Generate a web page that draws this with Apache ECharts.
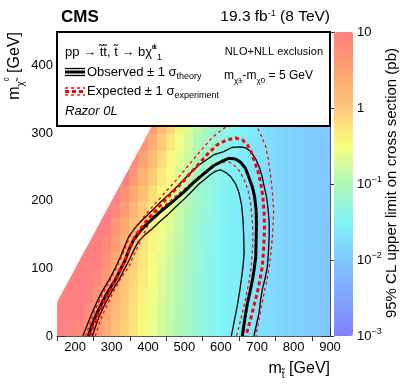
<!DOCTYPE html>
<html>
<head>
<meta charset="utf-8">
<script src="https://cdn.jsdelivr.net/npm/echarts@6/dist/echarts.min.js"></script>
<style>
  html, body { margin: 0; padding: 0; background: #fff; }
  #chart { width: 407px; height: 391px; }
</style>
</head>
<body>
<div id="chart"></div>
<script>
// bins (lower edges, GeV)
const binWidth = 25;
const stopBins = [150, 175, 200, 225, 250, 275, 300, 325, 350, 375, 400, 425, 450, 475, 500,
                  525, 550, 575, 600, 625, 650, 675, 700, 725, 750, 775, 800, 825, 850, 875];
const lspBins = [0, 25, 50, 75, 100, 125, 150, 175, 200, 225, 250, 275, 300];
// minimum m(stop) - m(LSP) of the scan
const minMassGap = 100;

// log10 of the 95% CL upper limit (pb), one row per LSP bin, null = outside the scan
const limitLog10 = [
  [1.0, 0.95, 0.85, 0.72, 0.55, 0.35, 0.12, -0.08, -0.28, -0.45, -0.6, -0.75, -0.88, -1.0, -1.12, -1.25, -1.35, -1.42, -1.5, -1.56, -1.62, -1.68, -1.73, -1.78, -1.82, -1.86, -1.9, -1.94, -1.97, -2.0],
  [1.2, 1.1, 1.0, 0.82, 0.62, 0.41, 0.17, -0.03, -0.24, -0.42, -0.58, -0.74, -0.86, -1.0, -1.12, -1.25, -1.35, -1.42, -1.5, -1.56, -1.62, -1.68, -1.73, -1.78, -1.82, -1.86, -1.9, -1.94, -1.97, -2.0],
  [1.3, 1.25, 1.15, 0.97, 0.72, 0.48, 0.23, 0.02, -0.19, -0.38, -0.55, -0.72, -0.85, -0.98, -1.12, -1.25, -1.35, -1.42, -1.5, -1.56, -1.62, -1.68, -1.73, -1.78, -1.82, -1.86, -1.9, -1.94, -1.97, -2.0],
  [null, 1.25, 1.2, 1.12, 0.87, 0.58, 0.3, 0.08, -0.14, -0.33, -0.51, -0.69, -0.83, -0.97, -1.1, -1.25, -1.35, -1.42, -1.5, -1.56, -1.62, -1.68, -1.73, -1.78, -1.82, -1.86, -1.9, -1.94, -1.97, -2.0],
  [null, null, 1.2, 1.17, 1.02, 0.73, 0.4, 0.15, -0.08, -0.28, -0.46, -0.65, -0.8, -0.95, -1.09, -1.23, -1.35, -1.42, -1.5, -1.56, -1.62, -1.68, -1.73, -1.78, -1.82, -1.86, -1.9, -1.94, -1.97, -2.0],
  [null, null, null, 1.25, 1.22, 0.88, 0.55, 0.25, -0.01, -0.22, -0.41, -0.6, -0.76, -0.92, -1.07, -1.22, -1.33, -1.42, -1.5, -1.56, -1.62, -1.68, -1.73, -1.78, -1.82, -1.86, -1.9, -1.94, -1.97, -2.0],
  [null, null, null, null, 1.25, 1.08, 0.7, 0.4, 0.09, -0.15, -0.35, -0.55, -0.71, -0.88, -1.04, -1.2, -1.32, -1.4, -1.5, -1.56, -1.62, -1.68, -1.73, -1.78, -1.82, -1.86, -1.9, -1.94, -1.97, -2.0],
  [null, null, null, null, null, 1.3, 0.9, 0.55, 0.24, -0.05, -0.28, -0.49, -0.66, -0.83, -1.0, -1.17, -1.3, -1.39, -1.48, -1.56, -1.62, -1.68, -1.73, -1.78, -1.82, -1.86, -1.9, -1.94, -1.97, -2.0],
  [null, null, null, null, null, null, 1.15, 0.75, 0.39, 0.1, -0.18, -0.42, -0.6, -0.78, -0.95, -1.13, -1.27, -1.37, -1.47, -1.54, -1.62, -1.68, -1.73, -1.78, -1.82, -1.86, -1.9, -1.94, -1.97, -2.0],
  [null, null, null, null, null, null, null, 1.0, 0.59, 0.25, -0.03, -0.32, -0.53, -0.72, -0.9, -1.08, -1.23, -1.34, -1.45, -1.53, -1.6, -1.68, -1.73, -1.78, -1.82, -1.86, -1.9, -1.94, -1.97, -2.0],
  [null, null, null, null, null, null, null, null, 0.84, 0.45, 0.12, -0.17, -0.43, -0.65, -0.84, -1.03, -1.18, -1.3, -1.42, -1.51, -1.59, -1.66, -1.73, -1.78, -1.82, -1.86, -1.9, -1.94, -1.97, -2.0],
  [null, null, null, null, null, null, null, null, null, 0.7, 0.32, -0.02, -0.28, -0.55, -0.77, -0.97, -1.13, -1.25, -1.38, -1.48, -1.57, -1.65, -1.71, -1.78, -1.82, -1.86, -1.9, -1.94, -1.97, -2.0],
  [null, null, null, null, null, null, null, null, null, null, 0.57, 0.18, -0.13, -0.4, -0.67, -0.9, -1.07, -1.2, -1.33, -1.44, -1.54, -1.63, -1.7, -1.76, -1.82, -1.86, -1.9, -1.94, -1.97, -2.0]
];

// exclusion contours [m(stop), m(LSP)]
const observed = [[236,0],[245,14],[255,28],[268,43],[282,58],[296,71],[310,83],[324,98],[337,112],[348,128],[360,142],[378,155],[397,166],[420,177],[443,188],[470,200],[498,213],[525,227],[553,240],[580,252],[608,260],[622,263],[640,262],[655,257],[668,248],[677,235],[687,220],[693,206],[697,186],[698,166],[697,140],[696,117],[692,100],[687,83],[680,65],[673,48],[666,25],[659,0]];
const observedUp = [[221,0],[232,15],[243,30],[256,46],[270,62],[284,75],[298,88],[312,103],[325,118],[336,133],[348,148],[366,161],[385,172],[408,184],[430,196],[458,210],[485,224],[512,239],[540,253],[580,268],[608,273],[630,279],[655,280],[670,278],[682,273],[695,263],[705,251],[713,237],[719,222],[726,205],[730,187],[733,168],[733,148],[731,125],[728,103],[722,86],[714,69],[709,52],[705,34],[698,17],[691,0]];
const observedDown = [[247,0],[256,14],[265,28],[278,43],[292,58],[306,71],[320,83],[334,98],[348,112],[360,126],[374,140],[392,150],[410,158],[432,169],[455,180],[478,192],[500,203],[520,214],[540,225],[556,232],[572,239],[586,244],[599,246],[614,242],[627,236],[640,226],[650,212],[657,194],[661,172],[663,148],[664,123],[662,108],[659,94],[653,70],[645,44],[637,22],[629,0]];
const expected = [[240,0],[249,14],[259,28],[272,43],[286,58],[300,72],[313,85],[326,100],[339,115],[350,130],[362,145],[380,159],[398,172],[420,185],[442,198],[466,212],[490,225],[515,240],[540,255],[565,270],[590,283],[615,290],[640,293],[660,290],[673,283],[683,273],[691,261],[702,244],[710,226],[716,204],[719,182],[720,162],[719,143],[717,123],[714,103],[708,84],[700,64],[691,45],[682,25],[675,12],[669,0]];
const expectedUp = [[228,0],[238,15],[248,30],[261,46],[275,62],[289,76],[303,90],[316,104],[328,118],[340,134],[352,150],[370,164],[391,178],[413,192],[435,205],[458,219],[481,233],[503,247],[527,263],[551,278],[575,293],[600,304],[620,312],[645,320],[665,323],[685,318],[700,309],[710,298],[723,281],[731,260],[737,236],[742,211],[745,187],[744,168],[742,148],[738,125],[733,103],[727,84],[719,64],[712,44],[705,25],[700,12],[697,0]];
const expectedDown = [[255,0],[264,15],[274,30],[287,45],[300,60],[313,73],[325,85],[336,94],[347,102],[358,116],[370,130],[390,153],[411,176],[435,188],[460,200],[485,211],[510,222],[535,234],[560,245],[580,252],[600,256],[613,258],[625,257],[638,252],[650,245],[664,232],[675,215],[682,196],[686,175],[688,157],[688,140],[686,120],[683,100],[677,80],[670,60],[662,40],[655,25],[649,12],[643,0]];

// axes
const xRange = [150, 900];
const yRange = [0, 450];
const xTickLabels = [200, 300, 400, 500, 600, 700, 800, 900];
const xMinorTicks = [150, 250, 350, 450, 550, 650, 750, 850];
const yTickLabels = [0, 100, 200, 300, 400];
const yMinorTicks = [50, 150, 250, 350];
const zExponents = [-3, -2, -1, 0, 1];

const palette = ['#8080ff', '#80a4ff', '#80c8ff', '#80f4f8', '#b0f8b8', '#f8ff80', '#ffc878', '#ffa070', '#ff8080'];

const FONT = 'Liberation Sans, Arial, Helvetica, sans-serif';

const cells = [];
lspBins.forEach((y0, i) => {
  stopBins.forEach((x0, j) => {
    const v = limitLog10[i][j];
    if (v !== null) cells.push([x0, y0, v]);
  });
});

const zMinor = [];
zExponents.slice(0, -1).forEach(e => {
  for (let k = 2; k <= 9; k++) zMinor.push(e + Math.log10(k));
});

const chart = echarts.init(document.getElementById('chart'));

function tickAxis(extra) {
  return Object.assign({
    type: 'value', gridIndex: 0, min: yRange[0], max: yRange[1],
    splitLine: { show: false },
    axisLine: { show: true, onZero: false, lineStyle: { color: '#555', width: 1 } },
    axisLabel: { show: false }
  }, extra);
}

const contour = (data, color, width, type, z) => ({
  type: 'line', xAxisIndex: 0, yAxisIndex: 0, data,
  symbol: 'none', showSymbol: false, silent: true, z,
  lineStyle: { color, width, type }
});

const option = {
  animation: false,
  textStyle: { fontFamily: FONT },
  grid: [
    { left: 57, top: 32, width: 273, height: 304 },
    { left: 334, top: 32, width: 19, height: 304 }
  ],
  xAxis: [
    {
      type: 'value', gridIndex: 0, min: xRange[0], max: xRange[1],
      splitLine: { show: false },
      axisLine: { show: true, onZero: false, lineStyle: { color: '#555' } },
      axisTick: { inside: true, length: 9, customValues: xTickLabels, lineStyle: { color: '#333' } },
      axisLabel: { customValues: xTickLabels, color: '#000', fontSize: 13, margin: 5 }
    },
    {
      type: 'value', gridIndex: 0, min: xRange[0], max: xRange[1],
      splitLine: { show: false },
      axisLine: { show: false },
      axisTick: { inside: true, length: 5, customValues: xMinorTicks, lineStyle: { color: '#333' } },
      axisLabel: { show: false }
    },
    { type: 'value', gridIndex: 1, show: false, min: 0, max: 1 }
  ],
  yAxis: [
    tickAxis({
      position: 'left',
      axisTick: { inside: true, length: 9, customValues: yTickLabels, lineStyle: { color: '#333' } },
      axisLabel: { show: true, customValues: yTickLabels, color: '#000', fontSize: 13, margin: 4 }
    }),
    tickAxis({
      position: 'left', axisLine: { show: false },
      axisTick: { inside: true, length: 5, customValues: yMinorTicks, lineStyle: { color: '#333' } }
    }),
    tickAxis({
      position: 'right',
      axisTick: { inside: true, length: 9, customValues: yTickLabels.concat([yRange[1]]), lineStyle: { color: '#333' } }
    }),
    tickAxis({
      position: 'right', axisLine: { show: false },
      axisTick: { inside: true, length: 5, customValues: yMinorTicks, lineStyle: { color: '#333' } }
    }),
    {
      type: 'value', gridIndex: 1, position: 'right', min: -3, max: 1,
      splitLine: { show: false },
      axisLine: { show: true, lineStyle: { color: '#777' } },
      axisTick: { inside: true, length: 8, customValues: zExponents, lineStyle: { color: '#333' } },
      axisLabel: {
        customValues: zExponents, color: '#000', fontSize: 13, margin: 4,
        formatter: v => v === 1 ? '10' : v === 0 ? '1' : '10{sup|' + String(v).replace('-', '\u2212') + '}',
        rich: { sup: { fontSize: 9, verticalAlign: 'top', padding: [0, 0, 8, 0] } }
      }
    },
    {
      type: 'value', gridIndex: 1, position: 'right', min: -3, max: 1,
      splitLine: { show: false },
      axisLine: { show: false },
      axisTick: { inside: true, length: 4, customValues: zMinor, lineStyle: { color: '#333' } },
      axisLabel: { show: false }
    }
  ],
  visualMap: {
    type: 'continuous', seriesIndex: 0, dimension: 2, min: -3, max: 1,
    calculable: false, hoverLink: false, padding: 0,
    left: 334, top: 32, itemWidth: 19, itemHeight: 304,
    inRange: { color: palette }
  },
  series: [
    {
      type: 'custom', xAxisIndex: 0, yAxisIndex: 0, data: cells, clip: true, silent: true, z: 1,
      encode: { x: 0, y: 1 },
      renderItem: (params, api) => {
        const x0 = api.value(0), y0 = api.value(1);
        const a = api.coord([x0, y0 + binWidth]);
        const b = api.coord([x0 + binWidth, y0]);
        return {
          type: 'rect',
          shape: { x: Math.floor(a[0]), y: Math.floor(a[1]), width: Math.ceil(b[0] - a[0]) + 1, height: Math.ceil(b[1] - a[1]) + 1 },
          style: { fill: api.visual('color') }
        };
      }
    },
    {
      // region outside the scan (m(stop) - m(LSP) < gap) left white
      type: 'custom', xAxisIndex: 0, yAxisIndex: 0, data: [[0]], clip: true, silent: true, z: 2,
      renderItem: (params, api) => {
        const corners = [
          [xRange[0] - 10, xRange[0] - 10 - minMassGap],
          [xRange[0] - 10, yRange[1] + 10],
          [yRange[1] + 10 + minMassGap, yRange[1] + 10]
        ];
        return { type: 'polygon', shape: { points: corners.map(p => api.coord(p)) }, style: { fill: '#fff' } };
      }
    },
    contour(observedUp, '#000', 1.3, 'solid', 5),
    contour(observedDown, '#000', 1.3, 'solid', 5),
    contour(expectedUp, '#ff0000', 1.3, [3, 3], 6),
    contour(expectedDown, '#ff0000', 1.3, [3, 3], 6),
    contour(observed, '#000', 3, 'solid', 7),
    contour(expected, '#ff0000', 3, [4, 3], 8)
  ],
  graphic: [
    { type: 'rect', z: 100, shape: { x: 57, y: 32, width: 273, height: 94 }, style: { fill: '#fff', stroke: '#000', lineWidth: 2 } },
    { type: 'text', z: 101, x: 61, y: 17, style: { text: 'CMS', font: 'bold 17px ' + FONT, fill: '#000', verticalAlign: 'middle' } },
    { type: 'text', z: 101, x: 330, y: 17, style: {
        text: '{n|19.3 fb}{sup|-1}{n| (8 TeV)}', align: 'right', verticalAlign: 'middle', fill: '#000',
        rich: { n: { fontSize: 15.5, fontFamily: FONT }, sup: { fontSize: 9, fontFamily: FONT, verticalAlign: 'top' } } } },
    { type: 'text', z: 101, x: 65, y: 52, style: {
        text: '{n|pp \u2192 t\u0303t\u0303, t\u0303 \u2192 b\u03c7\u0303}{sup|\u00b1}{sub|1}', verticalAlign: 'middle', fill: '#000',
        rich: { n: { fontSize: 13, fontFamily: FONT, lineHeight: 20 }, sup: { fontSize: 9, fontFamily: FONT, verticalAlign: 'top' }, sub: { fontSize: 9, fontFamily: FONT, verticalAlign: 'bottom' } } } },
    { type: 'text', z: 101, x: 323, y: 52, style: { text: 'NLO+NLL exclusion', font: '11px ' + FONT, fill: '#000', align: 'right', verticalAlign: 'middle' } },
    { type: 'line', z: 101, shape: { x1: 65, y1: 68.5, x2: 85, y2: 68.5 }, style: { stroke: '#000', lineWidth: 1.3 } },
    { type: 'line', z: 101, shape: { x1: 65, y1: 72, x2: 85, y2: 72 }, style: { stroke: '#000', lineWidth: 3 } },
    { type: 'line', z: 101, shape: { x1: 65, y1: 75.5, x2: 85, y2: 75.5 }, style: { stroke: '#000', lineWidth: 1.3 } },
    { type: 'text', z: 101, x: 87, y: 72, style: {
        text: '{n|Observed \u00b1 1 \u03c3}{sub|theory}', verticalAlign: 'middle', fill: '#000',
        rich: { n: { fontSize: 13, fontFamily: FONT, lineHeight: 18 }, sub: { fontSize: 9, fontFamily: FONT, verticalAlign: 'bottom' } } } },
    { type: 'text', z: 101, x: 224, y: 76, style: {
        text: '{n|m}{sub|\u03c7\u0303\u00b1}{n|-m}{sub|\u03c7\u03030}{n| = 5 GeV}', verticalAlign: 'middle', fill: '#000',
        rich: { n: { fontSize: 12, fontFamily: FONT, lineHeight: 18 }, sub: { fontSize: 8, fontFamily: FONT, verticalAlign: 'bottom' } } } },
    { type: 'line', z: 101, shape: { x1: 65, y1: 88, x2: 85, y2: 88 }, style: { stroke: '#ff0000', lineWidth: 1.3, lineDash: [3, 3] } },
    { type: 'line', z: 101, shape: { x1: 65, y1: 91.5, x2: 85, y2: 91.5 }, style: { stroke: '#ff0000', lineWidth: 3, lineDash: [4, 3] } },
    { type: 'line', z: 101, shape: { x1: 65, y1: 95, x2: 85, y2: 95 }, style: { stroke: '#ff0000', lineWidth: 1.3, lineDash: [3, 3] } },
    { type: 'text', z: 101, x: 87, y: 91, style: {
        text: '{n|Expected \u00b1 1 \u03c3}{sub|experiment}', verticalAlign: 'middle', fill: '#000',
        rich: { n: { fontSize: 13, fontFamily: FONT, lineHeight: 18 }, sub: { fontSize: 9, fontFamily: FONT, verticalAlign: 'bottom' } } } },
    { type: 'text', z: 101, x: 65, y: 111, style: { text: 'Razor 0L', font: 'italic 13px ' + FONT, fill: '#000', verticalAlign: 'middle' } },
    { type: 'text', z: 101, x: 330, y: 369, style: {
        text: '{n|m}{sub|t\u0303}{n| [GeV]}', align: 'right', verticalAlign: 'middle', fill: '#000',
        rich: { n: { fontSize: 16, fontFamily: FONT, lineHeight: 22 }, sub: { fontSize: 10, fontFamily: FONT, verticalAlign: 'bottom' } } } },
    { type: 'text', z: 101, x: 15, y: 32, rotation: Math.PI / 2, style: {
        text: '{n|m}{sub|\u03c7\u0303}{sup|0}{n| [GeV]}', align: 'right', verticalAlign: 'middle', fill: '#000',
        rich: { n: { fontSize: 16, fontFamily: FONT, lineHeight: 22 }, sub: { fontSize: 10, fontFamily: FONT, verticalAlign: 'bottom' }, sup: { fontSize: 7, fontFamily: FONT, verticalAlign: 'top' } } } },
    { type: 'text', z: 101, x: 392, y: 48, rotation: Math.PI / 2, style: {
        text: '95% CL upper limit on cross section (pb)', font: '15px ' + FONT, fill: '#000', align: 'right', verticalAlign: 'middle' } }
  ]
};

chart.setOption(option);
window.addEventListener('resize', () => chart.resize());
</script>
</body>
</html>
